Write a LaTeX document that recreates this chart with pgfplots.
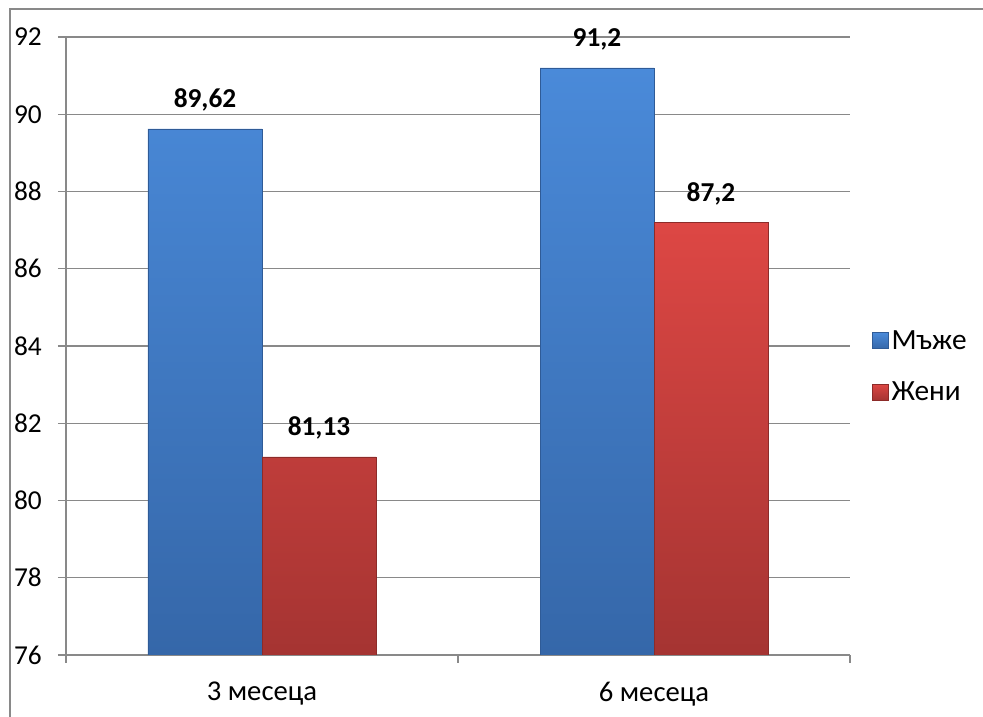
\documentclass[border=0pt]{standalone}
\usepackage{fontspec}
\setmainfont{Carlito}
\usepackage{pgfplots}
\pgfplotsset{compat=1.18}

\definecolor{linegray}{HTML}{898989}
\definecolor{blueTop}{HTML}{4A8AD9}
\definecolor{blueBot}{HTML}{3567A9}
\definecolor{blueEdge}{HTML}{2F5B97}
\definecolor{redTop}{HTML}{DD4744}
\definecolor{redBot}{HTML}{A53432}
\definecolor{redEdge}{HTML}{8C2B29}

\begin{document}
\begin{tikzpicture}[x=0.75pt,y=0.75pt]
% canvas and frame
\path[use as bounding box, fill=white] (0,0) rectangle (983,717);
\draw[linegray, line width=1pt] (10,0) -- (10,708) -- (983,708);

\begin{axis}[
  at={(49.5pt,46.5pt)}, anchor=south west,
  scale only axis, width=588pt, height=463.5pt,
  xmin=-0.5, xmax=1.5, ymin=76, ymax=92,
  ybar=0pt, bar width=85.5pt,
  axis x line*=bottom, axis y line*=left,
  axis line style={draw=linegray, line width=1pt, -},
  tick align=outside, major tick length=6pt,
  tick style={draw=linegray, line width=1pt},
  ytick={76,78,...,92},
  ymajorgrids, grid style={draw=linegray, line width=0.9pt},
  xtick={-0.5,0.5,1.5}, xticklabels={},
  extra x ticks={0,1},
  extra x tick labels={3 месеца,6 месеца},
  extra x tick style={major tick length=0pt, grid=none,
    tick label style={font=\fontsize{21.5}{24}\selectfont, anchor=north, inner sep=0pt, yshift=-20pt}},
  /pgf/number format/assume math mode=true,
  yticklabel style={font=\fontsize{20.5}{24}\selectfont, anchor=east, inner sep=0pt, xshift=-12pt},
  nodes near coords,
  point meta=explicit symbolic,
  nodes near coords style={font=\fontsize{20.5}{24}\selectfont\bfseries, anchor=base, inner sep=0pt, yshift=15.75pt},
  legend style={draw=none, fill=none, at={(1.028,0.467)}, anchor=west,
    inner sep=0pt, row sep=19pt,
    font=\fontsize{22}{26}\selectfont},
  legend cell align=left,
  legend image code/.code={\draw[#1] (0pt,-6pt) rectangle (12pt,6pt);},
]
\addplot[top color=blueTop, bottom color=blueBot, draw=blueEdge, line width=0.5pt]
  coordinates {(0,89.62) [89,62] (1,91.2) [91,2]};
\addplot[top color=redTop, bottom color=redBot, draw=redEdge, line width=0.5pt]
  coordinates {(0,81.13) [81,13] (1,87.2) [87,2]};
\legend{Мъже,Жени}
\end{axis}
\end{tikzpicture}
\end{document}
